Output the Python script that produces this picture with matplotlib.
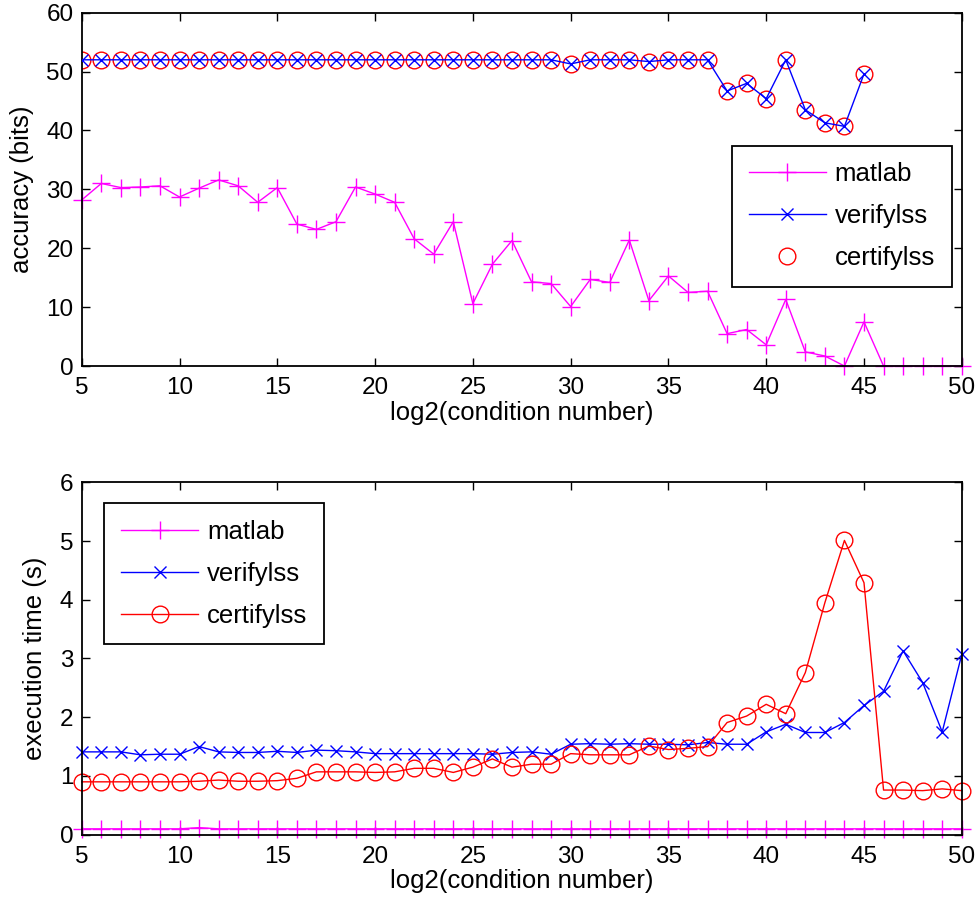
import numpy as np
import matplotlib
matplotlib.use("Agg")
import matplotlib.pyplot as plt

plt.rcParams['font.family'] = ['Liberation Sans', 'DejaVu Sans']
plt.rcParams['font.size'] = 18.5

# log2 of the condition number
cond = list(range(5, 51))

# accuracy in bits
acc_matlab = [28.2, 31.0, 30.3, 30.4, 30.6, 28.7, 30.2, 31.6, 30.6, 27.8,
              30.3, 24.1, 23.2, 24.5, 30.4, 29.2, 27.8, 21.6, 19.0, 24.5,
              10.6, 17.3, 21.3, 14.3, 14.0, 10.1, 14.7, 14.2, 21.4, 11.1,
              15.3, 12.5, 12.7, 5.5, 6.2, 3.6, 11.3, 2.4, 1.7, 0.0,
              7.5, 0.0, 0.0, 0.0, 0.0, 0.0]
acc_verify = [52.0] * 25 + [51.3, 52.0, 52.0, 52.0, 51.7, 52.0, 52.0, 52.0,
              46.7, 48.0, 45.4, 52.0, 43.5, 41.3, 40.7, 49.6] + [np.nan] * 5
acc_certify = list(acc_verify)

# execution time in seconds
time_matlab = [0.10] * 6 + [0.12] + [0.10] * 39
time_verify = [1.41, 1.41, 1.41, 1.36, 1.37, 1.37, 1.50, 1.41, 1.40, 1.40,
               1.42, 1.40, 1.44, 1.43, 1.41, 1.38, 1.38, 1.38, 1.38, 1.38,
               1.38, 1.37, 1.40, 1.41, 1.37, 1.54, 1.55, 1.54, 1.55, 1.54,
               1.54, 1.53, 1.57, 1.54, 1.54, 1.75, 1.88, 1.74, 1.74, 1.91,
               2.20, 2.44, 3.13, 2.59, 1.75, 3.07]
time_certify = [0.90, 0.90, 0.90, 0.90, 0.90, 0.90, 0.91, 0.93, 0.91, 0.91,
                0.92, 0.96, 1.07, 1.07, 1.07, 1.06, 1.07, 1.13, 1.13, 1.06,
                1.15, 1.29, 1.15, 1.20, 1.20, 1.38, 1.36, 1.36, 1.36, 1.51,
                1.45, 1.47, 1.50, 1.91, 2.02, 2.22, 2.06, 2.76, 3.95, 5.01,
                4.29, 0.76, 0.76, 0.75, 0.78, 0.75]

xticks = [5, 10, 15, 20, 25, 30, 35, 40, 45, 50]


def style_axes(ax):
    # matlab like axes: ticks inside on every side
    ax.set_xlim(5, 50)
    ax.set_xticks(xticks)
    ax.tick_params(direction='in', length=6, width=1, top=True, right=True, labelsize=17.5)
    ax.tick_params(axis='x', pad=8)
    ax.tick_params(axis='y', pad=6)
    for s in ax.spines.values():
        s.set_linewidth(1.3)
    ax.set_xlabel("log2(condition number)", labelpad=1)


def add_legend(ax, loc, anchor):
    leg = ax.legend(loc=loc, bbox_to_anchor=anchor, borderaxespad=0,
                    fancybox=False, framealpha=1, edgecolor='black', handlelength=3.0,
                    handletextpad=0.35, labelspacing=0.7, borderpad=0.65)
    leg.get_frame().set_linewidth(1.3)


fig = plt.figure(figsize=(9.8, 9.06), dpi=100)

# top: accuracy
ax1 = fig.add_axes([0.0834, 0.596, 0.898, 0.390])
ax1.plot(cond, acc_matlab, '-', color='magenta', marker='+', ms=13, mew=1, lw=1, label='matlab', clip_on=False)
ax1.plot(cond, acc_verify, '-', color='blue', marker='x', ms=9, mew=1, lw=1, label='verifylss', zorder=3)
ax1.plot(cond, acc_certify, 'o', color='red', mfc='none', ms=12, mew=1, label='certifylss', zorder=2)
ax1.set_ylim(0, 60)
ax1.set_yticks([0, 10, 20, 30, 40, 50, 60])
ax1.set_ylabel("accuracy (bits)", labelpad=9)
style_axes(ax1)
add_legend(ax1, 'upper right', (0.9886, 0.6235))

# bottom: execution time
ax2 = fig.add_axes([0.0834, 0.0787, 0.898, 0.389])
ax2.plot(cond, time_matlab, '-', color='magenta', marker='+', ms=13, mew=1, lw=1, label='matlab', clip_on=False)
ax2.plot(cond, time_verify, '-', color='blue', marker='x', ms=9, mew=1, lw=1, label='verifylss', clip_on=False)
ax2.plot(cond, time_certify, '-', color='red', marker='o', mfc='none', ms=12, mew=1, lw=1, label='certifylss', clip_on=False)
ax2.set_ylim(0, 6)
ax2.set_yticks([0, 1, 2, 3, 4, 5, 6])
ax2.set_ylabel("execution time (s)", labelpad=9)
style_axes(ax2)
add_legend(ax2, 'upper left', (0.0257, 0.941))

plt.savefig("out.png", dpi=100)
